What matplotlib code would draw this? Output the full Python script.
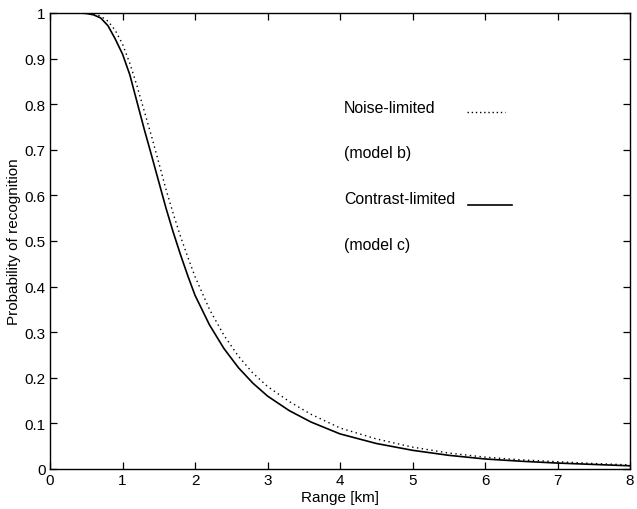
import matplotlib
matplotlib.use("Agg")
import matplotlib.pyplot as plt

# Range [km]
range_km = [0.0, 0.4, 0.5, 0.6, 0.7, 0.8, 0.9, 1.0, 1.1, 1.2, 1.3, 1.4, 1.5, 1.6,
            1.7, 1.8, 1.9, 2.0, 2.2, 2.4, 2.6, 2.8, 3.0, 3.3, 3.6, 4.0, 4.5, 5.0,
            5.5, 6.0, 6.5, 7.0, 7.5, 8.0]

# Noise-limited (model b) - dotted
p_noise = [1.0, 1.0, 1.0, 0.998, 0.993, 0.982, 0.962, 0.932, 0.89, 0.84, 0.785,
           0.73, 0.672, 0.613, 0.56, 0.51, 0.465, 0.422, 0.35, 0.293, 0.247, 0.21,
           0.181, 0.148, 0.12, 0.09, 0.066, 0.048, 0.035, 0.026, 0.02, 0.016,
           0.012, 0.009]

# Contrast-limited (model c) - solid
p_contrast = [1.0, 1.0, 0.999, 0.996, 0.989, 0.972, 0.943, 0.91, 0.865, 0.805,
              0.745, 0.688, 0.63, 0.572, 0.519, 0.47, 0.424, 0.381, 0.316, 0.264,
              0.222, 0.188, 0.16, 0.128, 0.103, 0.077, 0.056, 0.041, 0.03, 0.022,
              0.017, 0.013, 0.01, 0.007]

x_ticks = [0, 1, 2, 3, 4, 5, 6, 7, 8]
y_ticks = [0, 0.1, 0.2, 0.3, 0.4, 0.5, 0.6, 0.7, 0.8, 0.9, 1.0]
y_ticklabels = ["0", "0.1", "0.2", "0.3", "0.4", "0.5", "0.6", "0.7", "0.8", "0.9", "1"]

plt.rcParams['font.family'] = ['Liberation Sans', 'DejaVu Sans']

fig = plt.figure(figsize=(6.37, 5.10), dpi=100)
ax = fig.add_axes([50/637, 40/510, 580/637, 456/510])

ax.plot(range_km, p_noise, color='black', lw=1.0, linestyle=(0, (1, 2.5)))
ax.plot(range_km, p_contrast, color='black', lw=1.2)

ax.set_xlim(0, 8)
ax.set_ylim(0, 1)
ax.set_xticks(x_ticks)
ax.set_xticklabels([str(t) for t in x_ticks])
ax.set_yticks(y_ticks)
ax.set_yticklabels(y_ticklabels)
ax.tick_params(direction='in', top=True, right=True, length=5, width=0.9,
               labelsize=11, colors='black', pad=3)
for s in ax.spines.values():
    s.set_linewidth(1.0)
    s.set_color('black')

ax.set_xlabel("Range [km]", fontsize=11, labelpad=2)
ax.set_ylabel("Probability of recognition", fontsize=11, labelpad=3)

fs = 11.4
lx = 0.507
ax.text(lx, 0.793, "Noise-limited", transform=ax.transAxes, fontsize=fs, va='center')
ax.plot([0.719, 0.784], [0.782, 0.782], transform=ax.transAxes, color='black',
        lw=1.0, linestyle=(0, (1, 2.0)))
ax.text(lx, 0.693, "(model b)", transform=ax.transAxes, fontsize=fs, va='center')
ax.text(lx, 0.593, "Contrast-limited", transform=ax.transAxes, fontsize=fs, va='center')
ax.plot([0.721, 0.797], [0.578, 0.578], transform=ax.transAxes, color='black', lw=1.2)
ax.text(lx, 0.493, "(model c)", transform=ax.transAxes, fontsize=fs, va='center')

fig.savefig("out.png", dpi=100)
